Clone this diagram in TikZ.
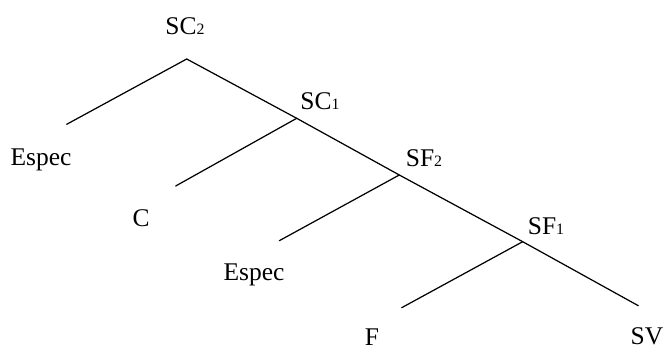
\documentclass[tikz,border=0pt]{standalone}
\usepackage{fontspec}
\setmainfont{Liberation Serif}
\usepackage{tikz}
\usetikzlibrary{positioning}

\newcommand{\idx}[1]{{\fontsize{9}{9}\selectfont #1}}

\begin{document}
\begin{tikzpicture}[
    every node/.style={font=\fontsize{14.5}{17}\selectfont, inner sep=0pt},
    lab/.style={anchor=base},
    branch/.style={line width=0.7pt, line cap=round}
]
\useasboundingbox (0,0) rectangle (13.3,6.98);

% Branching points and leaf ends
\coordinate (sc2) at (3.734,5.80);
\coordinate (sc1) at (5.934,4.614);
\coordinate (sf2) at (7.986,3.48);
\coordinate (sf1) at (10.454,2.146);
\coordinate (especA) at (1.334,4.494);
\coordinate (cend) at (3.514,3.26);
\coordinate (especB) at (5.586,2.166);
\coordinate (fend) at (8.034,0.826);
\coordinate (svend) at (12.766,0.866);

% Labels
\node[lab] (lsc2) at (3.70,6.28) {SC\idx{2}};
\node[lab] (lsc1) at (6.40,4.78) {SC\idx{1}};
\node[lab] (lsf2) at (8.48,3.66) {SF\idx{2}};
\node[lab] (lsf1) at (10.92,2.28) {SF\idx{1}};
\node[lab] (lespA) at (0.82,3.68) {Espec};
\node[lab] (lc) at (2.82,2.46) {C};
\node[lab] (lespB) at (5.08,1.366) {Espec};
\node[lab] (lf) at (7.44,0.08) {F};
\node[lab] (lsv) at (12.94,0.10) {SV};

% Spine
\draw[branch] (sc2) -- (sc1) -- (sf2) -- (sf1) -- (svend);

% Left daughters
\draw[branch] (sc2) -- (especA);
\draw[branch] (sc1) -- (cend);
\draw[branch] (sf2) -- (especB);
\draw[branch] (sf1) -- (fend);

\end{tikzpicture}
\end{document}
